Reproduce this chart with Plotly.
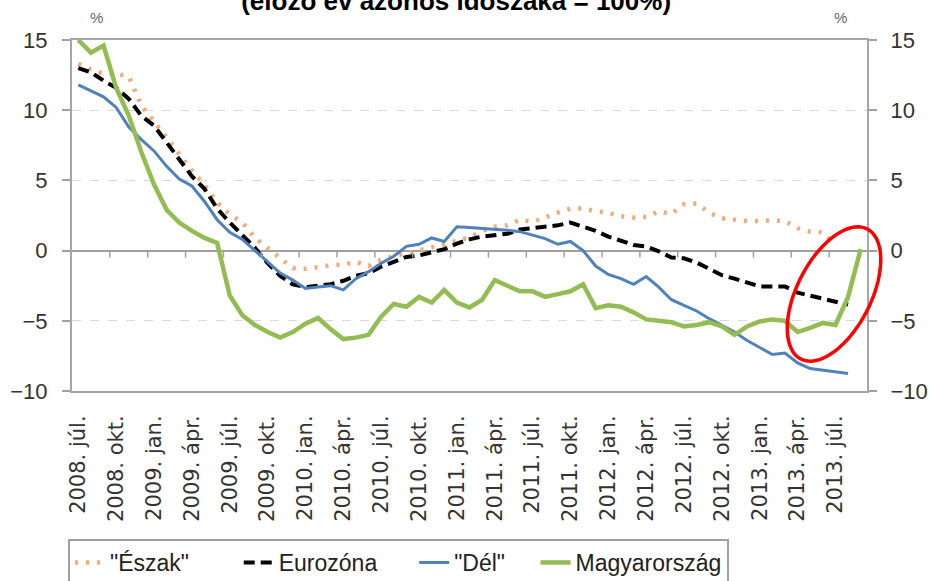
import numpy as np
import plotly.graph_objects as go

# ---------------- data ----------------
month_names = ["jan.", "febr.", "márc.", "ápr.", "máj.", "jún.",
               "júl.", "aug.", "szept.", "okt.", "nov.", "dec."]
months = []
for k in range(63):
    m = 6 + k
    months.append(f"{2008 + m // 12}. {month_names[m % 12]}")
tick_labels = months[0:61:3]

series_names = ['"Észak"', "Eurozóna", '"Dél"', "Magyarország"]

eszak = [13.3, 12.9, 12.6, 12.6, 12.4, 10.3, 9.2, 8.0, 6.8, 5.7,
         4.7, 3.4, 2.6, 2.0, 0.9, 0.2, -0.6, -1.25, -1.3, -1.15,
         -1.05, -1.0, -0.8, -1.1, -0.65, -0.4, -0.2, 0.0, 0.2, 0.45,
         0.7, 0.95, 1.4, 1.7, 1.8, 2.2, 2.05, 2.4, 2.7, 3.0,
         3.0, 2.8, 2.7, 2.45, 2.35, 2.4, 2.8, 2.6, 3.3, 3.35,
         2.7, 2.3, 2.2, 2.1, 2.1, 2.15, 2.1, 1.6, 1.35, 1.3,
         0.4]
eurozona = [13.0, 12.7, 12.1, 11.6, 10.8, 9.6, 8.9, 7.7, 6.5, 5.3,
            4.4, 3.0, 2.0, 1.1, 0.2, -0.9, -1.8, -2.4, -2.6, -2.5,
            -2.4, -2.15, -1.8, -1.6, -1.15, -0.8, -0.45, -0.35, -0.15, 0.1,
            0.5, 0.8, 1.0, 1.1, 1.2, 1.5, 1.6, 1.65, 1.8, 2.0,
            1.7, 1.4, 1.0, 0.7, 0.4, 0.3, -0.05, -0.5, -0.55, -0.85,
            -1.3, -1.75, -2.0, -2.3, -2.55, -2.55, -2.55, -3.0, -3.2, -3.4,
            -3.6, -3.85]
del_ = [11.8, 11.4, 10.95, 10.2, 8.8, 7.9, 7.1, 6.0, 5.1, 4.6,
        3.5, 2.2, 1.3, 0.8, 0.0, -0.8, -1.6, -2.1, -2.7, -2.6,
        -2.5, -2.8, -2.0, -1.5, -0.9, -0.4, 0.3, 0.45, 0.9, 0.65,
        1.7, 1.65, 1.6, 1.5, 1.45, 1.35, 1.1, 0.85, 0.45, 0.65,
        0.0, -1.1, -1.7, -2.0, -2.4, -1.85, -2.6, -3.5, -3.9, -4.3,
        -4.85, -5.3, -5.8, -6.4, -6.9, -7.4, -7.3, -8.0, -8.4, -8.5,
        -8.6, -8.75]
magyar = [15.0, 14.1, 14.6, 11.6, 9.6, 7.0, 4.7, 2.9, 2.0, 1.4,
          0.9, 0.55, -3.2, -4.6, -5.3, -5.8, -6.2, -5.8, -5.2, -4.8,
          -5.6, -6.3, -6.2, -6.0, -4.7, -3.8, -4.0, -3.3, -3.7, -2.8,
          -3.7, -4.05, -3.5, -2.1, -2.5, -2.9, -2.9, -3.3, -3.1, -2.9,
          -2.4, -4.1, -3.9, -4.0, -4.4, -4.9, -5.0, -5.1, -5.4, -5.3,
          -5.1, -5.4, -6.0, -5.4, -5.05, -4.9, -5.0, -5.8, -5.5, -5.15,
          -5.3, -3.3, 0.1]

y_ticks = [15, 10, 5, 0, -5, -10]

# ---------------- figure ----------------
W, H = 929, 581
ML, MR, MT, MB = 72, 62, 40, 190
XR = [-0.5, 62.5]
YR = [-10, 15]
pw, ph = W - ML - MR, H - MT - MB

NB = "\u00a0"
legend_pad = [7, 5, 4, 0]   # trailing non-breaking spaces to spread the legend entries
disp = [n + NB * p for n, p in zip(series_names, legend_pad)]

fig = go.Figure()
fig.add_trace(go.Scatter(x=months[:len(eszak)], y=eszak, name=disp[0], mode="lines",
                         line=dict(color="#F4AA78", width=4.5, dash="3px,8px")))
fig.add_trace(go.Scatter(x=months[:len(eurozona)], y=eurozona, name=disp[1], mode="lines",
                         line=dict(color="#000000", width=4, dash="11px,6px")))
fig.add_trace(go.Scatter(x=months[:len(del_)], y=del_, name=disp[2], mode="lines",
                         line=dict(color="#4F81BD", width=3)))
fig.add_trace(go.Scatter(x=months[:len(magyar)], y=magyar, name=disp[3], mode="lines",
                         line=dict(color="#93BC52", width=4.5), yaxis="y2"))

# tick marks on the zero line (between category groups)
shapes = []
for b in np.arange(2.5, 62, 3):
    shapes.append(dict(type="line", xref="x", yref="y", x0=b, x1=b, y0=0, y1=-0.5,
                       line=dict(color="#A0A0A0", width=1.5), layer="above"))

# red ellipse highlight (pixel-based decoration, in paper coordinates so it is not clipped)
cx, cy, a, bb, th = 834, 294, 73, 37, np.radians(27)
t = np.linspace(0, 2 * np.pi, 80)
ux, uy = np.sin(th), -np.cos(th)
vx, vy = np.cos(th), np.sin(th)
px = cx + a * np.cos(t) * ux + bb * np.sin(t) * vx
py = cy + a * np.cos(t) * uy + bb * np.sin(t) * vy
qx = (px - ML) / pw
qy = (MT + ph - py) / ph
path = "M " + " L ".join(f"{x:.4f},{y:.4f}" for x, y in zip(qx, qy)) + " Z"
shapes.append(dict(type="path", xref="paper", yref="paper", path=path,
                   line=dict(color="#FF0000", width=3.5), layer="above"))

axis_font = dict(family="Liberation Sans, Arial, sans-serif", size=22, color="#333333")

fig.update_layout(
    width=W, height=H,
    template="none",
    paper_bgcolor="white", plot_bgcolor="white",
    margin=dict(l=ML, r=MR, t=MT, b=MB, autoexpand=False),
    title=dict(text="<b>(előző év azonos időszaka = 100%)</b>",
               x=0.491, xanchor="center", y=1 - 1 / H, yanchor="middle",
               font=dict(family="Liberation Sans, Arial, sans-serif", size=26, color="#000000")),
    xaxis=dict(type="category", categoryorder="array", categoryarray=months,
               range=XR, tickmode="array", tickvals=tick_labels, ticktext=tick_labels,
               tickangle=-90, ticks="", showgrid=False, zeroline=False,
               showline=True, mirror=True, linecolor="#A6A6A6", linewidth=2,
               ticklabelstandoff=14, automargin=False,
               tickfont=dict(family="DejaVu Sans, sans-serif", size=21, color="#333333")),
    yaxis=dict(range=YR, tickvals=y_ticks, ticks="outside", ticklen=8, tickwidth=1.5,
               tickcolor="#A0A0A0", showline=True, linecolor="#A6A6A6", linewidth=2,
               showgrid=True, gridcolor="#D9D9D9", griddash="dash", gridwidth=1,
               zeroline=True, zerolinecolor="#A0A0A0", zerolinewidth=2,
               tickfont=axis_font, automargin=False, ticklabelstandoff=10),
    yaxis2=dict(range=YR, tickvals=y_ticks, overlaying="y", side="right",
                ticks="outside", ticklen=8, tickwidth=1.5, tickcolor="#A0A0A0",
                showline=True, linecolor="#A6A6A6", linewidth=2, showgrid=False,
                zeroline=False, tickfont=axis_font, automargin=False, ticklabelstandoff=9),
    shapes=shapes,
    showlegend=True,
    legend=dict(orientation="h", x=-0.005, xanchor="left", y=(MT + ph - 539) / ph,
                yanchor="top", bordercolor="#A0A0A0", borderwidth=2, bgcolor="white",
                font=dict(family="Liberation Sans, Arial, sans-serif", size=23, color="#222222"),
                traceorder="normal"),
    annotations=[
        dict(text="%", xref="paper", yref="paper", x=(88 - ML) / pw, y=(MT + ph - 17) / ph,
             yanchor="middle", showarrow=False,
             font=dict(family="Liberation Sans, Arial, sans-serif", size=15, color="#666666")),
        dict(text="%", xref="paper", yref="paper", x=(849 - ML) / pw, y=(MT + ph - 17) / ph,
             yanchor="middle", showarrow=False,
             font=dict(family="Liberation Sans, Arial, sans-serif", size=15, color="#666666")),
    ],
)

fig.write_html("out.html", config={"displayModeBar": False},
               post_script="document.body.style.margin='0';")
